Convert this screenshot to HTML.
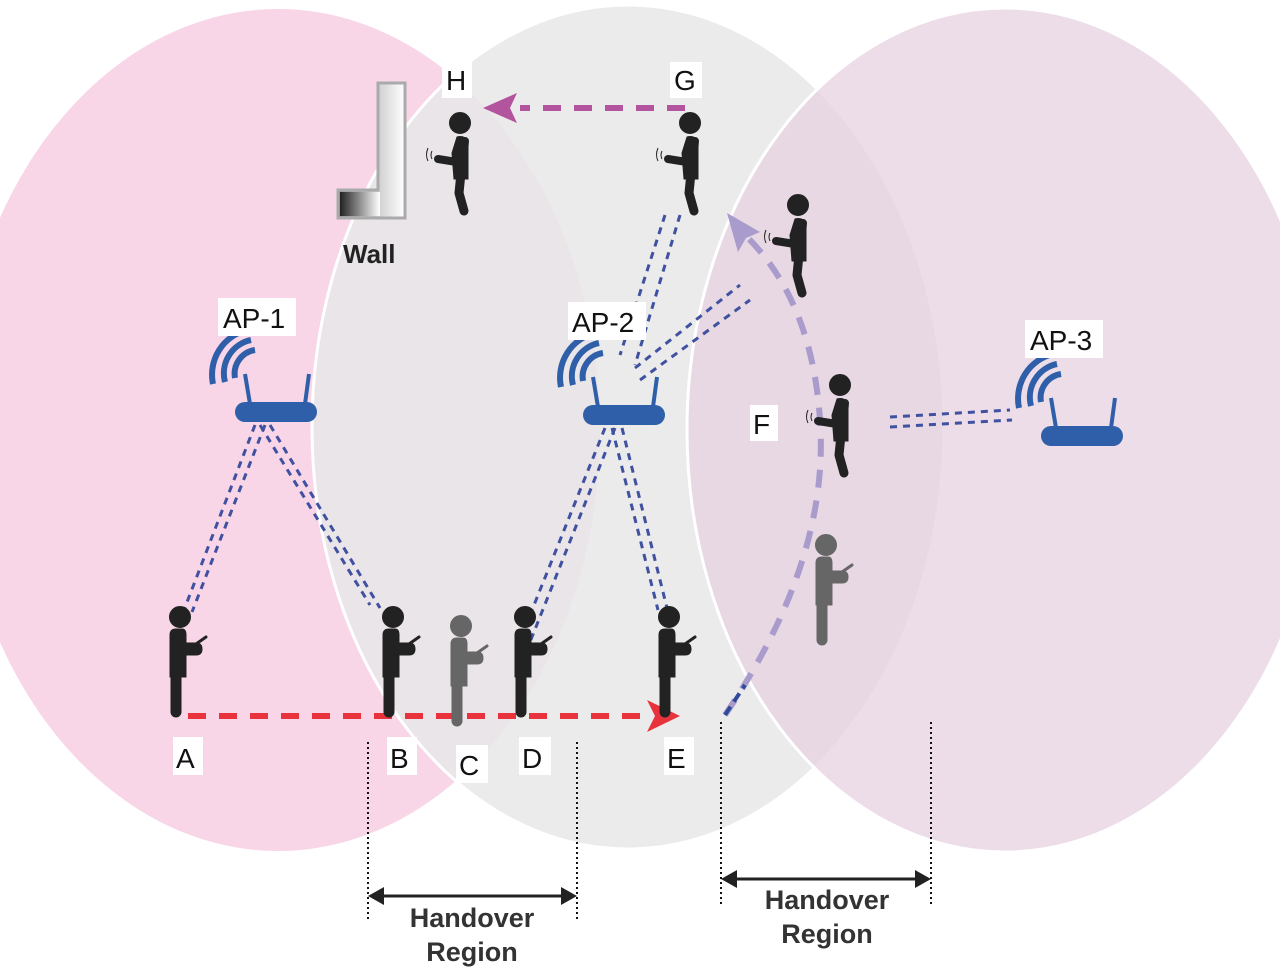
<!DOCTYPE html>
<html><head><meta charset="utf-8"><style>
html,body{margin:0;padding:0;background:#fff;}
svg{display:block;}
text{font-family:"Liberation Sans",sans-serif;}
</style></head><body>
<svg width="1280" height="971" viewBox="0 0 1280 971" xmlns="http://www.w3.org/2000/svg">
<defs>
<symbol id="p1" overflow="visible">
  <circle cx="0" cy="0" r="10.5"/>
  <path d="M-10 18 Q-10 12 -4 12 L2 12 Q6 12 6 18 L6 60 L-10 60 Z"/>
  <path d="M0 26 L16 26 Q22 26 22 32 Q22 38 16 38 L0 38 Z"/>
  <line x1="16" y1="27" x2="26" y2="20" stroke-width="3" stroke-linecap="round" style="stroke:inherit"/>
  <rect x="-9" y="55" width="10" height="45" rx="5"/>
</symbol>
<symbol id="p2" overflow="visible">
  <circle cx="0" cy="0" r="10.5"/>
  <path d="M-3 14 Q4 12 8 18 L8 56 L-6 56 L-8 30 Z"/>
  <path d="M5 18 L3 40 L-22 36" fill="none" stroke-width="8" stroke-linecap="round" stroke-linejoin="round" style="stroke:inherit"/>
  <path d="M1 50 L-1 70 L4 88" fill="none" stroke-width="9" stroke-linecap="round" stroke-linejoin="round" style="stroke:inherit"/>
  <path d="M-28 28 Q-30 32 -28 36 M-32 25 Q-35 32 -32 38" fill="none" stroke-width="1" style="stroke:inherit"/>
</symbol>
<symbol id="ap" overflow="visible">
  <rect x="0" y="0" width="82" height="20" rx="10" fill="#2f5fa8"/>
  <line x1="15" y1="2" x2="10" y2="-28" stroke="#2f5fa8" stroke-width="4"/>
  <line x1="70" y1="2" x2="74" y2="-28" stroke="#2f5fa8" stroke-width="4"/>
  <path d="M0 -24 A24 24 0 0 1 20 -52" fill="none" stroke="#2f5fa8" stroke-width="6"/>
  <path d="M-10 -20 A34 34 0 0 1 16 -62" fill="none" stroke="#2f5fa8" stroke-width="6"/>
  <path d="M-22 -18 A46 46 0 0 1 12 -72" fill="none" stroke="#2f5fa8" stroke-width="6"/>
</symbol>
<linearGradient id="wg" x1="0" x2="1"><stop offset="0" stop-color="#222"/><stop offset="1" stop-color="#fff"/></linearGradient>
<linearGradient id="wg2" x1="0" x2="1"><stop offset="0" stop-color="#888"/><stop offset="1" stop-color="#fff"/></linearGradient>
</defs>
<rect width="1280" height="971" fill="#fff"/>
<ellipse cx="278" cy="430" rx="322" ry="421" fill="#f8d6e7"/>
<ellipse cx="628" cy="427" rx="316" ry="422" fill="#e8e8e8" fill-opacity="0.85" stroke="#fff" stroke-width="3"/>
<ellipse cx="1005" cy="430" rx="318" ry="422" fill="#e6d2e0" fill-opacity="0.75" stroke="#fff" stroke-width="3"/>

<path d="M378 83 L405 83 L405 218 L338 218 L338 190 L378 190 Z" fill="url(#wg2)" stroke="#aaa" stroke-width="3"/>
<rect x="340" y="192" width="40" height="24" fill="url(#wg)"/>
<text x="343" y="263" font-size="26" font-weight="bold" fill="#222">Wall</text>

<g stroke="#3f51a0" stroke-width="3" stroke-dasharray="7 6" fill="none">
  <line x1="255" y1="425" x2="184" y2="610"/><line x1="265" y1="425" x2="192" y2="612"/>
  <line x1="260" y1="425" x2="370" y2="605"/><line x1="270" y1="425" x2="380" y2="608"/>
  <line x1="605" y1="428" x2="520" y2="640"/><line x1="615" y1="428" x2="530" y2="642"/>
  <line x1="612" y1="428" x2="658" y2="610"/><line x1="622" y1="428" x2="668" y2="612"/>
  <line x1="665" y1="215" x2="620" y2="355"/><line x1="680" y1="215" x2="635" y2="365"/>
  <line x1="635" y1="368" x2="740" y2="285"/><line x1="640" y1="380" x2="750" y2="300"/>
  <line x1="890" y1="417" x2="1010" y2="410"/><line x1="890" y1="427" x2="1012" y2="420"/>
</g>

<use href="#ap" x="235" y="402"/>
<use href="#ap" x="583" y="405"/>
<use href="#ap" x="1041" y="426"/>

<line x1="188" y1="716" x2="650" y2="716" stroke="#e8333d" stroke-width="6" stroke-dasharray="18 13"/>
<path d="M680 716 L647 700 L655 716 L647 732 Z" fill="#e8333d"/>
<line x1="685" y1="108" x2="520" y2="108" stroke="#b3549e" stroke-width="6" stroke-dasharray="18 13"/>
<path d="M483 108 L517 93 L510 108 L517 123 Z" fill="#b3549e"/>
<path d="M725 715 Q830 560 820 420 Q812 300 745 235" fill="none" stroke="#a99bcc" stroke-width="6" stroke-dasharray="18 13"/>
<path d="M725 715 L745 685" stroke="#2f4a9a" stroke-width="4" stroke-dasharray="10 6"/>
<path d="M727 213 L760 232 L746 238 L738 252 Z" fill="#a99bcc"/>

<use href="#p1" x="180" y="617" fill="#222" stroke="#222"/>
<use href="#p1" x="393" y="617" fill="#222" stroke="#222"/>
<use href="#p1" x="461" y="626" fill="#666" stroke="#666"/>
<use href="#p1" x="525" y="617" fill="#222" stroke="#222"/>
<use href="#p1" x="669" y="617" fill="#222" stroke="#222"/>
<use href="#p1" x="826" y="545" fill="#666" stroke="#666"/>
<use href="#p2" x="460" y="123" fill="#222" stroke="#222"/>
<use href="#p2" x="690" y="123" fill="#222" stroke="#222"/>
<use href="#p2" x="798" y="205" fill="#222" stroke="#222"/>
<use href="#p2" x="840" y="385" fill="#222" stroke="#222"/>

<g font-size="28" fill="#111">
<rect x="442" y="62" width="30" height="36" fill="#fff"/><text x="446" y="90">H</text>
<rect x="670" y="62" width="32" height="36" fill="#fff"/><text x="674" y="90">G</text>
<rect x="218" y="298" width="78" height="38" fill="#fff"/><text x="223" y="328">AP-1</text>
<rect x="568" y="302" width="78" height="38" fill="#fff"/><text x="572" y="332">AP-2</text>
<rect x="1025" y="320" width="78" height="38" fill="#fff"/><text x="1030" y="350">AP-3</text>
<rect x="750" y="405" width="28" height="36" fill="#fff"/><text x="753" y="434">F</text>
<rect x="173" y="737" width="30" height="38" fill="#fff"/><text x="176" y="768">A</text>
<rect x="387" y="737" width="30" height="38" fill="#fff"/><text x="390" y="768">B</text>
<rect x="456" y="745" width="32" height="38" fill="#fff"/><text x="459" y="775">C</text>
<rect x="519" y="737" width="32" height="38" fill="#fff"/><text x="522" y="768">D</text>
<rect x="664" y="737" width="30" height="38" fill="#fff"/><text x="667" y="768">E</text>
</g>

<g stroke="#111" stroke-width="2" stroke-dasharray="2 3">
<line x1="368" y1="742" x2="368" y2="922"/><line x1="577" y1="742" x2="577" y2="922"/>
<line x1="721" y1="722" x2="721" y2="905"/><line x1="931" y1="722" x2="931" y2="905"/>
</g>
<g stroke="#222" stroke-width="3">
<line x1="372" y1="896" x2="573" y2="896"/><line x1="725" y1="879" x2="927" y2="879"/>
</g>
<g fill="#222">
<path d="M368 896 L384 887 L384 905 Z"/><path d="M577 896 L561 887 L561 905 Z"/>
<path d="M721 879 L737 870 L737 888 Z"/><path d="M931 879 L915 870 L915 888 Z"/>
</g>
<g font-size="27" font-weight="bold" fill="#333" text-anchor="middle">
<text x="472" y="927">Handover</text><text x="472" y="961">Region</text>
<text x="827" y="909">Handover</text><text x="827" y="943">Region</text>
</g>
</svg>
</body></html>
